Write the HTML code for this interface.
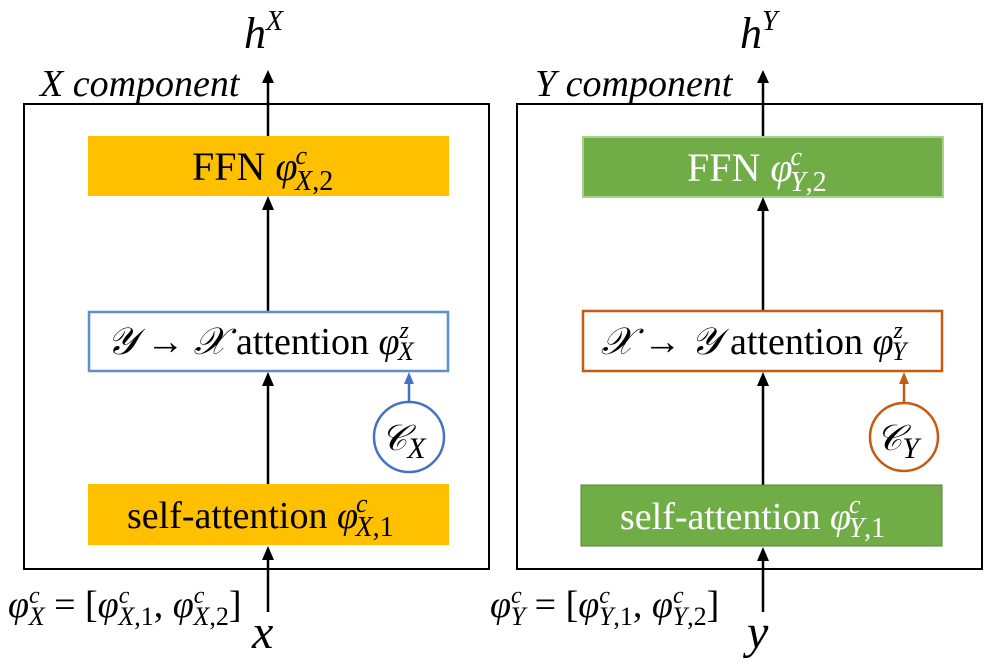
<!DOCTYPE html>
<html><head><meta charset="utf-8"><style>
html,body{margin:0;padding:0;background:#fff;}
svg{display:block;}
text{font-family:"Liberation Serif","DejaVu Serif",serif;}
.i{font-style:italic;}
</style></head><body>
<svg width="996" height="672" viewBox="0 0 996 672" xmlns="http://www.w3.org/2000/svg">
<rect width="996" height="672" fill="#fff"/>

<!-- LEFT -->
<rect x="24" y="104" width="465" height="465" fill="none" stroke="#000" stroke-width="2"/>
<text x="40" y="96" font-size="38" class="i">X component</text>
<text x="244" y="48" font-size="44" class="i">h<tspan font-size="28" dy="-18">X</tspan></text>
<line x1="268" y1="136" x2="268" y2="80" stroke="#000" stroke-width="2.5"/>
<path d="M262,83 L268,70 L274,83 z" fill="#000"/>
<rect x="88" y="136" width="361" height="60" fill="#FFC000"/>
<text x="192" y="180" font-size="40">FFN <tspan class="i">φ</tspan><tspan font-size="26" dx="-2" dy="-16" class="i">c</tspan><tspan font-size="28" dx="-12" dy="26" class="i">X</tspan><tspan font-size="28">,2</tspan></text>
<line x1="268" y1="312" x2="268" y2="208" stroke="#000" stroke-width="2.5"/>
<path d="M262,210 L268,196 L274,210 z" fill="#000"/>
<rect x="89" y="312" width="359" height="59" fill="#fff" stroke="#5B8FD0" stroke-width="2.5"/>
<text x="107" y="354" font-size="38"><tspan class="i">𝒴</tspan> → <tspan class="i">𝒳</tspan> attention <tspan class="i">φ</tspan><tspan font-size="24" dy="-16" class="i">z</tspan><tspan font-size="26" dx="-11" dy="22" class="i">X</tspan></text>
<line x1="268" y1="484" x2="268" y2="384" stroke="#000" stroke-width="2.5"/>
<path d="M262,386 L268,372 L274,386 z" fill="#000"/>
<line x1="409" y1="402" x2="409" y2="382" stroke="#4472C4" stroke-width="2.5"/>
<path d="M404,384 L409,372 L414,384 z" fill="#4472C4"/>
<circle cx="409" cy="437" r="35" fill="#fff" stroke="#4472C4" stroke-width="2.5"/>
<text x="381" y="450" font-size="36" class="i">𝒞<tspan font-size="30" dy="8">X</tspan></text>
<rect x="88" y="484" width="361" height="61" fill="#FFC000"/>
<text x="127" y="528" font-size="38">self-attention <tspan class="i">φ</tspan><tspan font-size="26" dx="-2" dy="-16" class="i">c</tspan><tspan font-size="28" dx="-12" dy="24" class="i">X</tspan><tspan font-size="28">,1</tspan></text>
<line x1="268" y1="612" x2="268" y2="556" stroke="#000" stroke-width="2.5"/>
<path d="M262,560 L268,546 L274,560 z" fill="#000"/>
<text x="8" y="617" font-size="38"><tspan class="i">φ</tspan><tspan font-size="24" dy="-14" class="i">c</tspan><tspan font-size="26" dx="-11" dy="22" class="i">X</tspan><tspan dy="-8"> = [</tspan><tspan class="i">φ</tspan><tspan font-size="24" dy="-14" class="i">c</tspan><tspan font-size="26" dx="-11" dy="22" class="i">X</tspan><tspan font-size="26">,1</tspan><tspan dy="-8">, </tspan><tspan class="i">φ</tspan><tspan font-size="24" dy="-14" class="i">c</tspan><tspan font-size="26" dx="-11" dy="22" class="i">X</tspan><tspan font-size="26">,2</tspan><tspan dy="-8">]</tspan></text>
<text x="252" y="648" font-size="48" class="i">x</text>

<!-- RIGHT -->
<rect x="517" y="104" width="465" height="465" fill="none" stroke="#000" stroke-width="2"/>
<text x="535" y="96" font-size="38" class="i">Y component</text>
<text x="740" y="48" font-size="44" class="i">h<tspan font-size="28" dy="-18">Y</tspan></text>
<line x1="763" y1="137" x2="763" y2="80" stroke="#000" stroke-width="2.5"/>
<path d="M757,83 L763,70 L769,83 z" fill="#000"/>
<rect x="583" y="137" width="360" height="60" fill="#70AD47" stroke="#A9D18E" stroke-width="2"/>
<text x="687" y="181" font-size="40" fill="#fff">FFN <tspan class="i">φ</tspan><tspan font-size="26" dx="-2" dy="-16" class="i">c</tspan><tspan font-size="28" dx="-12" dy="26" class="i">Y</tspan><tspan font-size="28">,2</tspan></text>
<line x1="763" y1="311" x2="763" y2="210" stroke="#000" stroke-width="2.5"/>
<path d="M757,211 L763,197 L769,211 z" fill="#000"/>
<rect x="583" y="311" width="359" height="60" fill="#fff" stroke="#C55A11" stroke-width="2.5"/>
<text x="601" y="354" font-size="38"><tspan class="i">𝒳</tspan> → <tspan class="i">𝒴</tspan> attention <tspan class="i">φ</tspan><tspan font-size="24" dy="-16" class="i">z</tspan><tspan font-size="26" dx="-11" dy="22" class="i">Y</tspan></text>
<line x1="763" y1="485" x2="763" y2="384" stroke="#000" stroke-width="2.5"/>
<path d="M757,386 L763,372 L769,386 z" fill="#000"/>
<line x1="904" y1="403" x2="904" y2="382" stroke="#C55A11" stroke-width="2.5"/>
<path d="M899,384 L904,372 L909,384 z" fill="#C55A11"/>
<circle cx="904" cy="437" r="34" fill="#fff" stroke="#C55A11" stroke-width="2.5"/>
<text x="876" y="450" font-size="36" class="i">𝒞<tspan font-size="30" dy="8">Y</tspan></text>
<rect x="581" y="485" width="361" height="61" fill="#70AD47" stroke="#548235" stroke-width="1"/>
<text x="620" y="529" font-size="38" fill="#fff">self-attention <tspan class="i">φ</tspan><tspan font-size="26" dx="-2" dy="-16" class="i">c</tspan><tspan font-size="28" dx="-12" dy="24" class="i">Y</tspan><tspan font-size="28">,1</tspan></text>
<line x1="763" y1="612" x2="763" y2="558" stroke="#000" stroke-width="2.5"/>
<path d="M757,561 L763,547 L769,561 z" fill="#000"/>
<text x="490" y="617" font-size="38"><tspan class="i">φ</tspan><tspan font-size="24" dy="-14" class="i">c</tspan><tspan font-size="26" dx="-11" dy="22" class="i">Y</tspan><tspan dy="-8"> = [</tspan><tspan class="i">φ</tspan><tspan font-size="24" dy="-14" class="i">c</tspan><tspan font-size="26" dx="-11" dy="22" class="i">Y</tspan><tspan font-size="26">,1</tspan><tspan dy="-8">, </tspan><tspan class="i">φ</tspan><tspan font-size="24" dy="-14" class="i">c</tspan><tspan font-size="26" dx="-11" dy="22" class="i">Y</tspan><tspan font-size="26">,2</tspan><tspan dy="-8">]</tspan></text>
<text x="747" y="648" font-size="48" class="i">y</text>
</svg>
</body></html>
